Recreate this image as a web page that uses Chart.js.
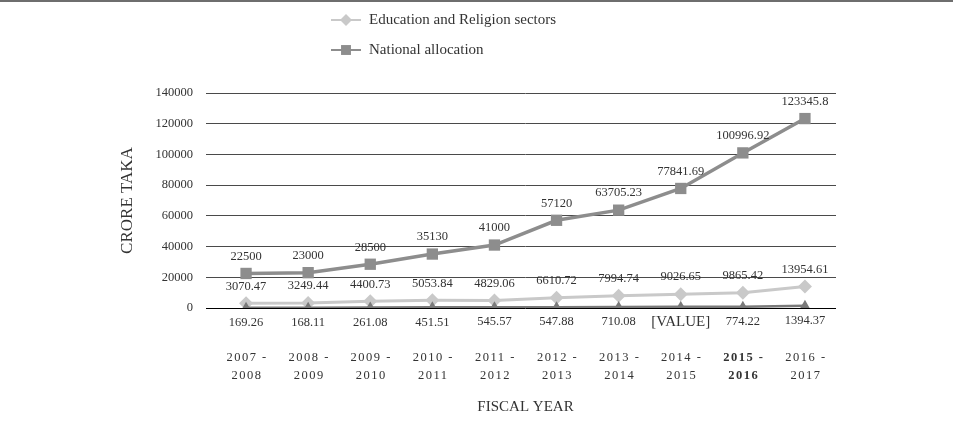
<!DOCTYPE html>
<html>
<head>
<meta charset="utf-8">
<script src="https://cdn.jsdelivr.net/npm/chart.js@4.4.1/dist/chart.umd.min.js"></script>
<style>
  html, body { margin: 0; padding: 0; background: #fff; }
  #wrap { position: relative; width: 953px; height: 430px; }
  #topRule { position: absolute; left: 0; top: 0; width: 953px; height: 2px; background: #6e6e6e; }
</style>
</head>
<body>
<div id="wrap">
  <canvas id="allocChart" width="953" height="430"></canvas>
  <div id="topRule"></div>
</div>
<script>
// Fiscal years (two-line labels)
const fiscalYears = [
  ['2007 -', '2008'], ['2008 -', '2009'], ['2009 -', '2010'], ['2010 -', '2011'], ['2011 -', '2012'],
  ['2012 -', '2013'], ['2013 -', '2014'], ['2014 -', '2015'], ['2015 -', '2016'], ['2016 -', '2017']
];

// Crore taka
const nationalAllocation = [22500, 23000, 28500, 35130, 41000, 57120, 63705.23, 77841.69, 100996.92, 123345.8];
const eduReligion = [3070.47, 3249.44, 4400.73, 5053.84, 4829.06, 6610.72, 7994.74, 9026.65, 9865.42, 13954.61];
const minorAllocation = [169.26, 168.11, 261.08, 451.51, 545.57, 547.88, 710.08, 740, 774.22, 1394.37];
const minorLabels = ['169.26', '168.11', '261.08', '451.51', '545.57', '547.88', '710.08', '[VALUE]', '774.22', '1394.37'];

const yTicks = [0, 20000, 40000, 60000, 80000, 100000, 120000, 140000];

const SERIF = '"Liberation Serif", "Times New Roman", serif';
const NATIONAL_COLOR = '#8d8d8d';
const EDU_COLOR = '#c9c9c9';
const MINOR_COLOR = '#7a7a7a';

// Value labels above / below each point
const valueLabels = {
  id: 'valueLabels',
  afterDatasetsDraw(chart) {
    const ctx = chart.ctx;
    ctx.save();
    ctx.fillStyle = '#333';
    ctx.textAlign = 'center';
    ctx.textBaseline = 'middle';
    chart.data.datasets.forEach((ds, di) => {
      const meta = chart.getDatasetMeta(di);
      meta.data.forEach((pt, i) => {
        let text = String(ds.data[i]);
        let dy = -17;
        ctx.font = '12.5px ' + SERIF;
        if (ds.label === 'minor') {
          text = minorLabels[i];
          dy = 15;
          if (text === '[VALUE]') ctx.font = '15px ' + SERIF;
        }
        ctx.fillText(text, pt.x, pt.y + dy);
      });
    });
    ctx.restore();
  }
};

// Spaced category labels under the plot
const yearLabels = {
  id: 'yearLabels',
  afterDraw(chart) {
    const ctx = chart.ctx;
    const xs = chart.scales.x;
    ctx.save();
    ctx.fillStyle = '#333';
    ctx.textAlign = 'center';
    ctx.textBaseline = 'middle';
    ctx.letterSpacing = '1.5px';
    fiscalYears.forEach((lines, i) => {
      const x = xs.getPixelForValue(i);
      ctx.font = (i === 8 ? 'bold ' : '') + '12.5px ' + SERIF;
      ctx.fillText(lines[0], x + 1, 358);
      ctx.fillText(lines[1], x + 1, 376);
    });
    ctx.restore();
  }
};

// Stacked legend at the top
const stackedLegend = {
  id: 'stackedLegend',
  afterDraw(chart) {
    const ctx = chart.ctx;
    const items = [
      { text: 'Education and Religion sectors', color: EDU_COLOR, style: 'rectRot', r: 6, y: 20 },
      { text: 'National allocation', color: NATIONAL_COLOR, style: 'rect', r: 7, y: 50 }
    ];
    ctx.save();
    items.forEach(it => {
      ctx.strokeStyle = it.color;
      ctx.lineWidth = 2;
      ctx.beginPath();
      ctx.moveTo(331, it.y);
      ctx.lineTo(361, it.y);
      ctx.stroke();
      ctx.fillStyle = it.color;
      Chart.helpers.drawPoint(ctx, { pointStyle: it.style, radius: it.r, borderWidth: 0 }, 346, it.y);
      ctx.fillStyle = '#333';
      ctx.font = '15px ' + SERIF;
      ctx.textAlign = 'left';
      ctx.textBaseline = 'middle';
      ctx.fillText(it.text, 369, it.y);
    });
    ctx.restore();
  }
};

new Chart(document.getElementById('allocChart'), {
  type: 'line',
  data: {
    labels: fiscalYears,
    datasets: [
      {
        label: 'minor',
        data: minorAllocation,
        borderColor: MINOR_COLOR,
        backgroundColor: MINOR_COLOR,
        borderWidth: 2.5,
        pointStyle: 'triangle',
        pointRadius: 6,
        pointBorderWidth: 0
      },
      {
        label: 'Education and Religion sectors',
        data: eduReligion,
        borderColor: EDU_COLOR,
        backgroundColor: EDU_COLOR,
        borderWidth: 3,
        pointStyle: 'rectRot',
        pointRadius: 7,
        pointBorderWidth: 0
      },
      {
        label: 'National allocation',
        data: nationalAllocation,
        borderColor: NATIONAL_COLOR,
        backgroundColor: NATIONAL_COLOR,
        borderWidth: 3.5,
        pointStyle: 'rect',
        pointRadius: 8,
        pointBorderWidth: 0
      }
    ]
  },
  options: {
    responsive: false,
    animation: false,
    layout: { padding: { top: 93, right: 117, bottom: 14, left: 117 } },
    plugins: { legend: { display: false }, tooltip: { enabled: false } },
    scales: {
      x: {
        offset: true,
        grid: { display: false },
        border: { display: false },
        ticks: { display: false },
        title: { display: true, text: 'FISCAL YEAR', color: '#333', font: { family: SERIF, size: 15 }, padding: 0 },
        afterFit(scale) { scale.height = 108; }
      },
      y: {
        min: 0,
        max: 140000,
        afterBuildTicks(scale) { scale.ticks = yTicks.map(v => ({ value: v })); },
        border: { display: false },
        grid: {
          color: ctx => (ctx.tick && ctx.tick.value === 0 ? '#000' : '#4a4a4a'),
          lineWidth: 1,
          tickLength: 9
        },
        ticks: {
          color: '#333',
          font: { family: SERIF, size: 12.5 },
          padding: 13,
          callback: v => String(v)
        },
        title: { display: true, text: 'CRORE TAKA', color: '#333', font: { family: SERIF, size: 17 }, padding: 0 },
        afterFit(scale) { scale.width = 98; }
      }
    }
  },
  plugins: [valueLabels, yearLabels, stackedLegend]
});
</script>
</body>
</html>
